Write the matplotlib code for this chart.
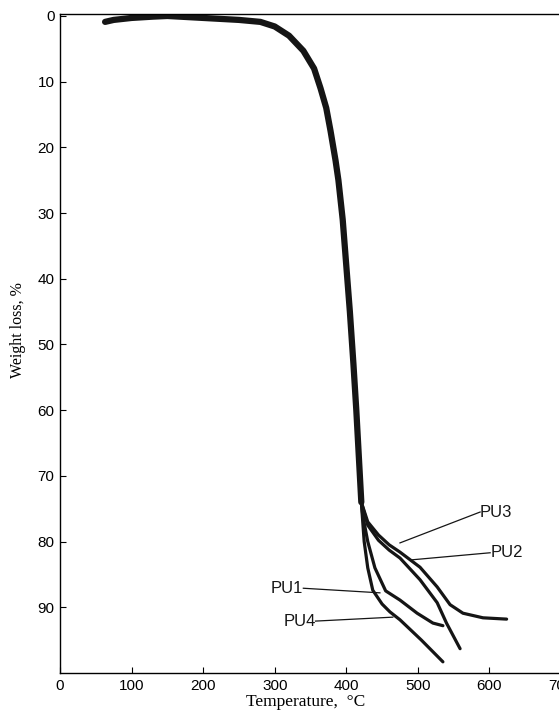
import numpy as np
import matplotlib.pyplot as plt

# tramo comun (todas las muestras se superponen)
temp_comun = [63, 75, 100, 130, 150, 200, 250, 280, 300, 320, 340, 355, 364, 372,
              378, 385, 389, 395, 400, 405, 410, 414, 417, 419, 421]
perdida_comun = [0.9, 0.6, 0.3, 0.1, 0.0, 0.3, 0.6, 0.9, 1.6, 3.0, 5.3, 8.0, 11.0, 14.0,
                 17.5, 22.0, 25.0, 31.0, 38.0, 45.0, 53.0, 60.0, 66.0, 70.0, 74.0]

# ramas finales de cada muestra
temp_pu1 = [421, 423, 430, 440, 455, 475, 499, 521, 535]
perdida_pu1 = [74.0, 76.0, 80.0, 84.0, 87.5, 88.9, 90.9, 92.4, 92.8]
temp_pu2 = [421, 430, 445, 460, 475, 503, 527, 540, 559]
perdida_pu2 = [74.0, 77.5, 79.8, 81.3, 82.5, 85.8, 89.3, 92.4, 96.3]
temp_pu3 = [421, 430, 445, 460, 475, 503, 527, 545, 563, 591, 624]
perdida_pu3 = [74.0, 77.0, 79.0, 80.5, 81.6, 83.9, 86.9, 89.6, 90.9, 91.6, 91.8]
temp_pu4 = [421, 425, 430, 437, 450, 461, 475, 505, 535]
perdida_pu4 = [74.0, 80.0, 84.0, 87.4, 89.5, 90.7, 91.9, 95.0, 98.3]

# etiquetas: texto, posicion del texto, punto sobre la curva
etiquetas = ["PU3", "PU2", "PU1", "PU4"]
pos_texto = [(587, 75.5), (601, 81.7), (340, 87.1), (357, 92.1)]
pos_curva = [(475, 80.2), (489, 82.8), (447, 87.8), (465, 91.5)]

fig = plt.figure(figsize=(5.59, 7.10), dpi=100)
ax = fig.add_axes([60 / 559, 37 / 710, 501 / 559, 659 / 710])

color = "#151515"
ax.plot(temp_comun, perdida_comun, color=color, lw=4.5, solid_capstyle="round")
for t, w in [(temp_pu1, perdida_pu1), (temp_pu2, perdida_pu2),
             (temp_pu3, perdida_pu3), (temp_pu4, perdida_pu4)]:
    ax.plot(t, w, color=color, lw=2.3, solid_capstyle="round")

for txt, (xt, yt), (xc, yc) in zip(etiquetas, pos_texto, pos_curva):
    ha = "left" if xt > xc else "right"
    ax.plot([xt, xc], [yt, yc], color=color, lw=0.9)
    ax.text(xt, yt, txt, ha=ha, va="center", fontsize=12,
            family="Liberation Sans", color=color)

ax.set_xlim(0, 700)
ax.set_ylim(100, -0.3)
ax.set_xticks(range(0, 701, 100))
ax.set_yticks(range(0, 91, 10))
ax.tick_params(direction="in", length=4, width=0.8, labelsize=11, pad=4)
for lab in ax.get_xticklabels() + ax.get_yticklabels():
    lab.set_family("Liberation Sans")
ax.spines["right"].set_visible(False)
for s in ["left", "bottom", "top"]:
    ax.spines[s].set_linewidth(1.0)

fig.text(306 / 559, 1 - 702 / 710, "Temperature,  °C", ha="center", va="center",
         family="Liberation Serif", fontsize=12.5)
fig.text(18 / 559, 1 - 330 / 710, "Weight loss, %", ha="center", va="center",
         rotation=90, family="Liberation Serif", fontsize=11.5)

fig.savefig("out.png", dpi=100)
